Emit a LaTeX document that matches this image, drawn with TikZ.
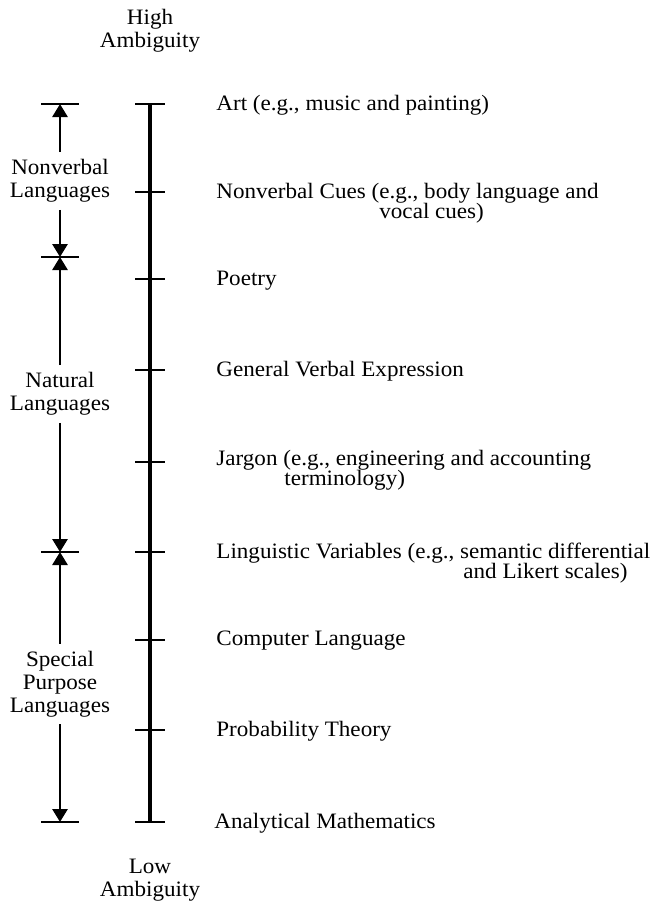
\documentclass[tikz,border=0pt]{standalone}
\usepackage{fontspec}
\setmainfont{Liberation Serif}[FakeStretch=1.05]
\usetikzlibrary{arrows.meta,positioning}
\newcommand{\tightlines}{\lineskiplimit=-20pt\relax}

\begin{document}
\begin{tikzpicture}[x=0.5pt,y=-0.5pt,>={Triangle[length=6.5pt,width=7.5pt]},line width=1.4pt]
\tikzstyle{item}=[anchor=base west,inner sep=0pt,align=left,font={\fontsize{11}{10}\selectfont\tightlines}]
\tikzstyle{group}=[align=center,inner sep=3pt,font=\fontsize{11}{11.5}\selectfont]
\useasboundingbox (0,0) rectangle (659,907);
% ends of the scale
\node[group] (high) at (150,31) {High\\Ambiguity};
\node[group] (low) at (150,880) {Low\\Ambiguity};
% points on the scale
\coordinate (art) at (150,104);
\coordinate (cues) at (150,192);
\coordinate (poetry) at (150,279);
\coordinate (verbal) at (150,370);
\coordinate (jargon) at (150,462);
\coordinate (lingvar) at (150,552);
\coordinate (comp) at (150,640);
\coordinate (prob) at (150,730);
\coordinate (math) at (150,822);
\draw[line width=1.8pt] (art) -- (math);
\draw (art) +(-15,0) -- +(15,0)
      (cues) +(-15,0) -- +(15,0)
      (poetry) +(-15,0) -- +(15,0)
      (verbal) +(-15,0) -- +(15,0)
      (jargon) +(-15,0) -- +(15,0)
      (lingvar) +(-15,0) -- +(15,0)
      (comp) +(-15,0) -- +(15,0)
      (prob) +(-15,0) -- +(15,0)
      (math) +(-15,0) -- +(15,0);
\node[item] (artlbl) at (215,110) {Art (e.g., music and painting)};
\node[item] (cueslbl) at (215,218) {Nonverbal Cues (e.g., body language and\\\hspace*{81.5pt}vocal cues)};
\node[item] (poetrylbl) at (215,285) {Poetry};
\node[item] (verballbl) at (215,376) {General Verbal Expression};
\node[item] (jargonlbl) at (215,485) {Jargon (e.g., engineering and accounting\\\hspace*{34pt}terminology)};
\node[item] (lingvarlbl) at (215,578) {Linguistic Variables (e.g., semantic differential\\\hspace*{123.5pt}and Likert scales)};
\node[item] (complbl) at (215,645) {Computer Language};
\node[item] (problbl) at (215,736) {Probability Theory};
\node[item] (mathlbl) at (213,828) {Analytical Mathematics};
% language groups
\coordinate (nvtop) at (60,104);
\coordinate (nvbot) at (60,257);
\coordinate (natbot) at (60,552);
\coordinate (spbot) at (60,822);
\draw (nvtop) +(-19,0) -- +(19,0)
      (nvbot) +(-19,0) -- +(19,0)
      (natbot) +(-19,0) -- +(19,0)
      (spbot) +(-19,0) -- +(19,0);
\node[group] (nvl) at (60,181) {Nonverbal\\Languages};
\node[group] (natl) at (60,394) {Natural\\Languages};
\node[group] (spl) at (60,684) {Special\\Purpose\\Languages};
\draw[->] (nvl) -- (nvtop);
\draw[->] (nvl) -- (nvbot);
\draw[->] (natl) -- (nvbot);
\draw[->] (natl) -- (natbot);
\draw[->] (spl) -- (natbot);
\draw[->] (spl) -- (spbot);
\end{tikzpicture}
\end{document}
